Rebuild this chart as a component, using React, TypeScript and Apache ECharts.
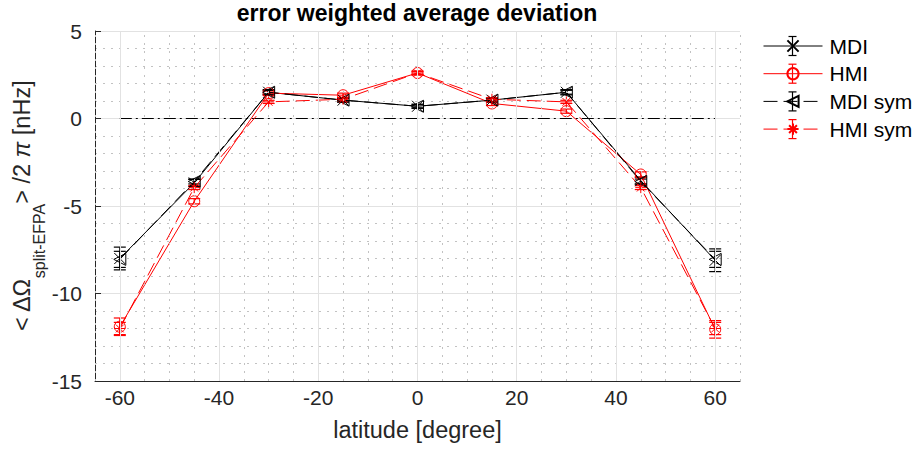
import { useEffect, useRef } from 'react';
import * as echarts from 'echarts';

const latitudes = [-60, -45, -30, -15, 0, 15, 30, 45, 60];
const mdi = [-8.0, -3.68, 1.5, 1.05, 0.7, 1.05, 1.5, -3.55, -8.1];
const mdiErr = [0.65, 0.2, 0.15, 0.12, 0.12, 0.12, 0.15, 0.2, 0.65];
const hmi = [-11.9, -4.73, 1.45, 1.33, 2.6, 0.86, 0.42, -3.2, -12.05];
const hmiErr = [0.5, 0.15, 0.12, 0.12, 0.12, 0.12, 0.12, 0.15, 0.5];
const mdiSym = [-8.05, -3.6, 1.5, 1.05, 0.7, 1.05, 1.5, -3.6, -8.05];
const mdiSymErr = [0.46, 0.14, 0.11, 0.09, 0.09, 0.09, 0.11, 0.14, 0.46];
const hmiSym = [-12.0, -3.95, 0.95, 1.1, 2.6, 1.1, 0.95, -3.95, -12.0];
const hmiSymErr = [0.35, 0.11, 0.09, 0.09, 0.08, 0.09, 0.09, 0.11, 0.35];

const xMajorTicks = [-60, -40, -20, 0, 20, 40, 60];
const xMinorGrid = [-65, -55, -50, -45, -35, -30, -25, -15, -10, -5, 5, 10, 15, 25, 30, 35, 45, 50, 55, 65];
const zeroLineX = [-60, 60];
const seriesNames = ['MDI', 'HMI', 'MDI sym', 'HMI sym'];

const FONT = "'Liberation Sans', Arial, Helvetica, sans-serif";
const AX = '#262626';
const MAJOR = '#e2e2e2';
const MINOR = '#c2c2c2';
const BLACK = '#000000';
const RED = '#ff0000';

const X_SYM = 'path://M0,0L10,10M10,0L0,10';
const STAR_SYM = 'path://M5,0L5,10M0,5L10,5M1.5,1.5L8.5,8.5M8.5,1.5L1.5,8.5';

const LEG_LEFT = 763;
const LEG_TOP = 35;
const LEG_ITEM_H = 22;
const LEG_GAP = 5.7;
const LEG_ICON_W = 59;
const LEG_X = LEG_LEFT + LEG_ICON_W / 2;

function errorSeries(name: string, ys: number[], errs: number[], color: string) {
  return {
    type: 'custom',
    name: name + ' error',
    silent: true,
    z: 3,
    data: latitudes.map((x, i) => [x, ys[i], errs[i]]),
    encode: { x: 0, y: 1 },
    renderItem: (_params: any, api: any) => {
      const x = api.value(0);
      const y = api.value(1);
      const e = api.value(2);
      const lo = api.coord([x, y - e]);
      const hi = api.coord([x, y + e]);
      const w = 6;
      const style = { stroke: color, lineWidth: 1.2 };
      return {
        type: 'group',
        children: [
          { type: 'line', shape: { x1: lo[0], y1: lo[1], x2: hi[0], y2: hi[1] }, style },
          { type: 'line', shape: { x1: lo[0] - w, y1: lo[1], x2: lo[0] + w, y2: lo[1] }, style },
          { type: 'line', shape: { x1: hi[0] - w, y1: hi[1], x2: hi[0] + w, y2: hi[1] }, style },
        ],
      };
    },
  };
}

function lineSeries(name: string, ys: number[], color: string, symbol: string, dashed: boolean, rotate = 0) {
  return {
    type: 'line',
    name,
    z: 4,
    data: latitudes.map((x, i) => [x, ys[i]]),
    symbol,
    symbolSize: symbol === 'triangle' ? 12 : 11,
    symbolRotate: rotate,
    showAllSymbol: true,
    lineStyle: { color, width: 1, type: dashed ? [14, 6] : 'solid' },
    itemStyle: { color: 'rgba(0,0,0,0)', borderColor: color, borderWidth: 1 },
    emphasis: { disabled: true },
  };
}

export default function App() {
  const ref = useRef<HTMLDivElement>(null);
  useEffect(() => {
    const chart = echarts.init(ref.current!, null, { renderer: 'svg' });
    const colors = [BLACK, RED, BLACK, RED];
    const legendGraphics: any[] = [];
    colors.forEach((c, i) => {
      const cy = LEG_TOP + LEG_ITEM_H / 2 + i * (LEG_ITEM_H + LEG_GAP);
      const style = { stroke: c, lineWidth: 1.2 };
      legendGraphics.push(
        { type: 'line', shape: { x1: LEG_X, y1: cy - 9.5, x2: LEG_X, y2: cy + 9.5 }, style },
        { type: 'line', shape: { x1: LEG_X - 4, y1: cy - 9.5, x2: LEG_X + 4, y2: cy - 9.5 }, style },
        { type: 'line', shape: { x1: LEG_X - 4, y1: cy + 9.5, x2: LEG_X + 4, y2: cy + 9.5 }, style }
      );
    });

    const option: any = {
      animation: false,
      backgroundColor: '#ffffff',
      textStyle: { fontFamily: FONT },
      title: {
        text: 'error weighted average deviation',
        left: 417,
        top: 1,
        textAlign: 'center',
        padding: 0,
        textStyle: { fontSize: 23, fontWeight: 'bold', color: BLACK, fontFamily: FONT },
      },
      grid: { left: 95, right: 179, top: 31, bottom: 71, containLabel: false, outerBoundsMode: 'none' },
      legend: {
        orient: 'vertical',
        left: LEG_LEFT,
        top: LEG_TOP,
        padding: 0,
        itemWidth: LEG_ICON_W,
        itemHeight: 14,
        itemGap: LEG_GAP,
        selectedMode: false,
        lineStyle: { width: 1 },
        textStyle: { fontSize: 21, color: BLACK, fontFamily: FONT, lineHeight: LEG_ITEM_H, padding: [0, 0, 0, 2] },
        data: seriesNames,
      },
      graphic: legendGraphics,
      xAxis: {
        type: 'value',
        min: -65,
        max: 65,
        splitNumber: 6,
        name: 'latitude [degree]',
        nameLocation: 'middle',
        nameGap: 37,
        nameTextStyle: { fontSize: 23.5, color: AX, fontFamily: FONT },
        axisLine: { show: true, onZero: false, lineStyle: { color: AX, width: 1 } },
        axisTick: { show: true, inside: true, length: 6, customValues: xMajorTicks, lineStyle: { color: AX } },
        axisLabel: { customValues: xMajorTicks, fontSize: 21, color: AX, margin: 6, fontFamily: FONT },
        splitLine: { show: false },
      },
      yAxis: {
        type: 'value',
        min: -15,
        max: 5,
        interval: 5,
        name: '{a|< ΔΩ}{sub|split-EFPA}{a|> /2 }{pi|π}{a| [nHz]}',
        nameLocation: 'middle',
        nameRotate: 90,
        nameGap: 48,
        nameMoveOverlap: false,
        nameTextStyle: {
          color: AX,
          fontFamily: FONT,
          rich: {
            a: { fontSize: 23.5, lineHeight: 50, color: AX, fontFamily: FONT, verticalAlign: 'middle' },
            pi: { fontSize: 23.5, lineHeight: 50, color: AX, fontFamily: FONT, fontStyle: 'italic', verticalAlign: 'middle' },
            sub: { fontSize: 16, lineHeight: 16, color: AX, fontFamily: FONT, verticalAlign: 'bottom' },
          },
        },
        axisLine: { show: true, onZero: false, lineStyle: { color: AX, width: 1 } },
        axisTick: { show: true, inside: true, length: 6, lineStyle: { color: AX } },
        axisLabel: { fontSize: 21, color: AX, margin: 13, fontFamily: FONT },
        splitLine: { show: true, lineStyle: { color: MAJOR, width: 1 } },
        minorTick: { show: false, splitNumber: 5 },
        minorSplitLine: { show: true, lineStyle: { color: MINOR, width: 1, type: [2, 6] } },
      },
      series: [
        {
          type: 'line',
          name: 'grid',
          data: [],
          z: 1,
          silent: true,
          markLine: {
            silent: true,
            symbol: ['none', 'none'],
            label: { show: false },
            emphasis: { disabled: true },
            data: [
              ...xMinorGrid.map((v) => ({ xAxis: v, lineStyle: { color: MINOR, width: 1, type: [2, 6] } })),
              ...xMajorTicks.map((v) => ({ xAxis: v, lineStyle: { color: MAJOR, width: 1, type: 'solid' } })),
            ],
          },
        },
        {
          type: 'line',
          name: 'zero',
          z: 2,
          silent: true,
          symbol: 'none',
          data: zeroLineX.map((x) => [x, 0]),
          lineStyle: { color: BLACK, width: 1, type: [12, 4, 2, 4] },
        },
        errorSeries('MDI', mdi, mdiErr, BLACK),
        errorSeries('HMI', hmi, hmiErr, RED),
        errorSeries('MDI sym', mdiSym, mdiSymErr, BLACK),
        errorSeries('HMI sym', hmiSym, hmiSymErr, RED),
        lineSeries('MDI', mdi, BLACK, X_SYM, false),
        lineSeries('HMI', hmi, RED, 'circle', false),
        lineSeries('MDI sym', mdiSym, BLACK, 'triangle', true, 90),
        lineSeries('HMI sym', hmiSym, RED, STAR_SYM, true),
      ],
    };
    chart.setOption(option);
    return () => chart.dispose();
  }, []);
  return (
    <div
      ref={ref}
      style={{ position: 'fixed', left: 0, top: 0, width: 919, height: 452, background: '#fff' }}
    />
  );
}
